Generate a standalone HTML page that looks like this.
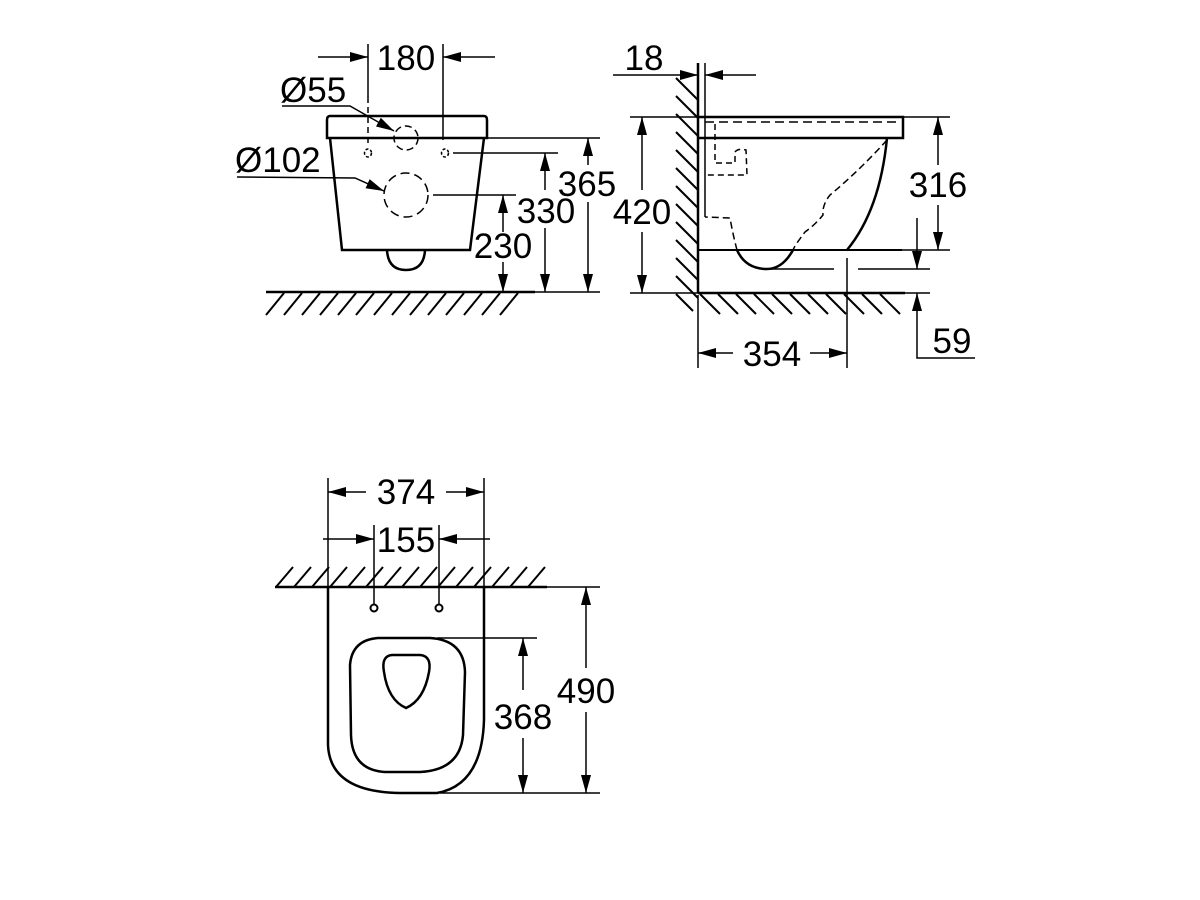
<!DOCTYPE html>
<html><head><meta charset="utf-8"><style>
html,body{margin:0;padding:0;background:#fff;}
svg{display:block;}
text{font-family:"Liberation Sans",Arial,sans-serif;font-size:35px;fill:#000;}
</style></head><body>
<svg width="1200" height="900" viewBox="0 0 1200 900" xmlns="http://www.w3.org/2000/svg">
<defs>
<marker id="a" markerUnits="userSpaceOnUse" markerWidth="19" markerHeight="10" refX="18" refY="5" orient="auto">
<path d="M0,0 L18,5 L0,10 Z" fill="#000"/>
</marker>
</defs>
<g fill="none" stroke="#000" stroke-width="1.5">

<!-- ============ FRONT VIEW ============ -->
<g stroke-width="2">
<line x1="266" y1="315" x2="284" y2="293"/><line x1="284" y1="315" x2="302" y2="293"/><line x1="302" y1="315" x2="320" y2="293"/><line x1="320" y1="315" x2="338" y2="293"/><line x1="338" y1="315" x2="356" y2="293"/><line x1="356" y1="315" x2="374" y2="293"/><line x1="374" y1="315" x2="392" y2="293"/><line x1="392" y1="315" x2="410" y2="293"/><line x1="410" y1="315" x2="428" y2="293"/><line x1="428" y1="315" x2="446" y2="293"/><line x1="446" y1="315" x2="464" y2="293"/><line x1="464" y1="315" x2="482" y2="293"/><line x1="482" y1="315" x2="500" y2="293"/><line x1="500" y1="315" x2="518" y2="293"/>
</g>
<line x1="266" y1="292" x2="535" y2="292" stroke-width="2.5"/>
<line x1="535" y1="292" x2="600" y2="292"/>
<path d="M330,116 L484,116 Q487,116 487,120 L487,138 L327,138 L327,120 Q327,116 330,116 Z" stroke-width="2.5"/>
<path d="M330,138 L342,250 L470,250 L484,138" stroke-width="2.5"/>
<path d="M387,250 Q388,270 406,270 Q424,270 425,250" stroke-width="2.5"/>
<circle cx="406" cy="138" r="12" stroke-dasharray="7,4"/>
<circle cx="406" cy="195" r="22" stroke-dasharray="9,5"/>
<ellipse cx="368" cy="153" rx="3.5" ry="4" stroke-dasharray="3,2"/>
<ellipse cx="445" cy="153" rx="3.5" ry="4" stroke-dasharray="3,2"/>
<line x1="368" y1="44" x2="368" y2="103"/>
<line x1="368" y1="107" x2="368" y2="143" stroke-dasharray="6,4"/>
<line x1="443" y1="44" x2="443" y2="140"/>
<line x1="318" y1="57" x2="368" y2="57" marker-end="url(#a)"/>
<line x1="495" y1="57" x2="443" y2="57" marker-end="url(#a)"/>
<polyline points="282,106 350,106 394,131" marker-end="url(#a)"/>
<polyline points="237,177 355,178 384,191" marker-end="url(#a)"/>
<line x1="433" y1="195" x2="516" y2="195"/>
<line x1="503" y1="232" x2="503" y2="195" marker-end="url(#a)"/>
<line x1="503" y1="262" x2="503" y2="292" marker-end="url(#a)"/>
<line x1="453" y1="153" x2="558" y2="153"/>
<line x1="545" y1="190" x2="545" y2="153" marker-end="url(#a)"/>
<line x1="545" y1="228" x2="545" y2="292" marker-end="url(#a)"/>
<line x1="486" y1="138" x2="600" y2="138"/>
<line x1="588" y1="165" x2="588" y2="138" marker-end="url(#a)"/>
<line x1="588" y1="202" x2="588" y2="292" marker-end="url(#a)"/>

<!-- ============ SIDE VIEW ============ -->
<g stroke-width="2">
<line x1="676" y1="78" x2="698" y2="100"/><line x1="676" y1="96" x2="698" y2="118"/><line x1="676" y1="114" x2="698" y2="136"/><line x1="676" y1="132" x2="698" y2="154"/><line x1="676" y1="150" x2="698" y2="172"/><line x1="676" y1="168" x2="698" y2="190"/><line x1="676" y1="186" x2="698" y2="208"/><line x1="676" y1="204" x2="698" y2="226"/><line x1="676" y1="222" x2="698" y2="244"/><line x1="676" y1="240" x2="698" y2="262"/><line x1="676" y1="258" x2="698" y2="280"/><line x1="676" y1="276" x2="698" y2="298"/><line x1="676" y1="294" x2="693" y2="311"/>
<line x1="700" y1="294" x2="720" y2="314"/><line x1="718" y1="294" x2="738" y2="314"/><line x1="736" y1="294" x2="756" y2="314"/><line x1="754" y1="294" x2="774" y2="314"/><line x1="772" y1="294" x2="792" y2="314"/><line x1="790" y1="294" x2="810" y2="314"/><line x1="808" y1="294" x2="828" y2="314"/><line x1="826" y1="294" x2="846" y2="314"/><line x1="844" y1="294" x2="864" y2="314"/><line x1="862" y1="294" x2="882" y2="314"/><line x1="880" y1="294" x2="900" y2="314"/>
</g>
<line x1="698" y1="63" x2="698" y2="293" stroke-width="2.5"/>
<line x1="698" y1="293" x2="905" y2="293" stroke-width="2.5"/>
<line x1="905" y1="293" x2="930" y2="293"/>
<line x1="705" y1="63" x2="705" y2="217"/>
<line x1="613" y1="75" x2="698" y2="75" marker-end="url(#a)"/>
<line x1="756" y1="75" x2="705" y2="75" marker-end="url(#a)"/>
<path d="M698,117 L903,117 L903,138 L698,138" stroke-width="2.5"/>
<line x1="705" y1="122" x2="900" y2="122" stroke-dasharray="9,5"/>
<path d="M887,138 Q880,210 847,250" stroke-width="2.5"/>
<line x1="698" y1="250" x2="902" y2="250" stroke-width="2"/>
<path d="M887,140 Q860,170 830,195 Q822,205 823,215 Q815,225 805,232 Q795,245 793,250" stroke-dasharray="7,4"/>
<path d="M793,250 Q782,270 765,269 Q745,268 737,250" stroke-width="2.5"/>
<path d="M737,250 Q733,235 730,218 L705,217" stroke-dasharray="7,4"/>
<path d="M715,124 L715,163 L735,163 L735,152 Q738,148 746,150 L747,175 L705,175" stroke-dasharray="6,4"/>
<line x1="765" y1="269" x2="834" y2="269"/>
<line x1="858" y1="269" x2="930" y2="269"/>
<line x1="630" y1="117" x2="698" y2="117"/>
<line x1="630" y1="293" x2="698" y2="293"/>
<line x1="642" y1="190" x2="642" y2="117" marker-end="url(#a)"/>
<line x1="642" y1="232" x2="642" y2="293" marker-end="url(#a)"/>
<line x1="903" y1="117" x2="950" y2="117"/>
<line x1="902" y1="250" x2="950" y2="250"/>
<line x1="938" y1="165" x2="938" y2="117" marker-end="url(#a)"/>
<line x1="938" y1="205" x2="938" y2="250" marker-end="url(#a)"/>
<line x1="917" y1="218" x2="917" y2="269" marker-end="url(#a)"/>
<polyline points="975,358 917,358 917,293" marker-end="url(#a)"/>
<line x1="698" y1="295" x2="698" y2="368"/>
<line x1="847" y1="258" x2="847" y2="368"/>
<line x1="733" y1="353" x2="698" y2="353" marker-end="url(#a)"/>
<line x1="810" y1="353" x2="847" y2="353" marker-end="url(#a)"/>

<!-- ============ TOP VIEW ============ -->
<g stroke-width="2">
<line x1="276" y1="587" x2="293" y2="567"/><line x1="294" y1="587" x2="311" y2="567"/><line x1="312" y1="587" x2="329" y2="567"/><line x1="330" y1="587" x2="347" y2="567"/><line x1="348" y1="587" x2="365" y2="567"/><line x1="366" y1="587" x2="383" y2="567"/><line x1="384" y1="587" x2="401" y2="567"/><line x1="402" y1="587" x2="419" y2="567"/><line x1="420" y1="587" x2="437" y2="567"/><line x1="438" y1="587" x2="455" y2="567"/><line x1="456" y1="587" x2="473" y2="567"/><line x1="474" y1="587" x2="491" y2="567"/><line x1="492" y1="587" x2="509" y2="567"/><line x1="510" y1="587" x2="527" y2="567"/><line x1="528" y1="587" x2="545" y2="567"/>
</g>
<line x1="275" y1="587" x2="547" y2="587" stroke-width="2.5"/>
<line x1="547" y1="587" x2="600" y2="587"/>
<line x1="328" y1="478" x2="328" y2="587"/>
<line x1="484" y1="478" x2="484" y2="587"/>
<line x1="366" y1="492" x2="328" y2="492" marker-end="url(#a)"/>
<line x1="446" y1="492" x2="484" y2="492" marker-end="url(#a)"/>
<line x1="374" y1="525" x2="374" y2="604"/>
<line x1="439" y1="525" x2="439" y2="604"/>
<line x1="323" y1="539" x2="374" y2="539" marker-end="url(#a)"/>
<line x1="490" y1="539" x2="439" y2="539" marker-end="url(#a)"/>
<circle cx="374" cy="608" r="3.5" stroke-width="2"/>
<circle cx="439" cy="608" r="3.5" stroke-width="2"/>
<path d="M328,587 L328,745 Q330,792 400,793 L437,793 Q482,785 484,720 L484,587" stroke-width="2.5"/>
<path d="M378,638 L430,638 Q464,640 465,672 L463,735 Q460,770 420,772 L385,772 Q352,770 351,735 L350,665 Q352,640 378,638 Z" stroke-width="2.5"/>
<path d="M392,655 L420,655 Q432,656 429,672 Q424,700 406,708 Q388,700 384,672 Q381,656 392,655 Z" stroke-width="2.5"/>
<line x1="437" y1="638" x2="537" y2="638"/>
<line x1="523" y1="690" x2="523" y2="638" marker-end="url(#a)"/>
<line x1="523" y1="738" x2="523" y2="793" marker-end="url(#a)"/>
<line x1="440" y1="793" x2="600" y2="793"/>
<line x1="586" y1="668" x2="586" y2="587" marker-end="url(#a)"/>
<line x1="586" y1="712" x2="586" y2="793" marker-end="url(#a)"/>
</g>

<text x="406" y="70" text-anchor="middle">180</text>
<text x="280" y="102">Ø55</text>
<text x="235" y="172">Ø102</text>
<text x="503" y="258" text-anchor="middle">230</text>
<text x="546" y="223" text-anchor="middle">330</text>
<text x="587" y="196" text-anchor="middle">365</text>
<text x="644" y="70" text-anchor="middle">18</text>
<text x="642" y="224" text-anchor="middle">420</text>
<text x="938" y="197" text-anchor="middle">316</text>
<text x="952" y="353" text-anchor="middle">59</text>
<text x="772" y="366" text-anchor="middle">354</text>
<text x="406" y="504" text-anchor="middle">374</text>
<text x="406" y="552" text-anchor="middle">155</text>
<text x="523" y="729" text-anchor="middle">368</text>
<text x="586" y="703" text-anchor="middle">490</text>
</svg>
</body></html>
